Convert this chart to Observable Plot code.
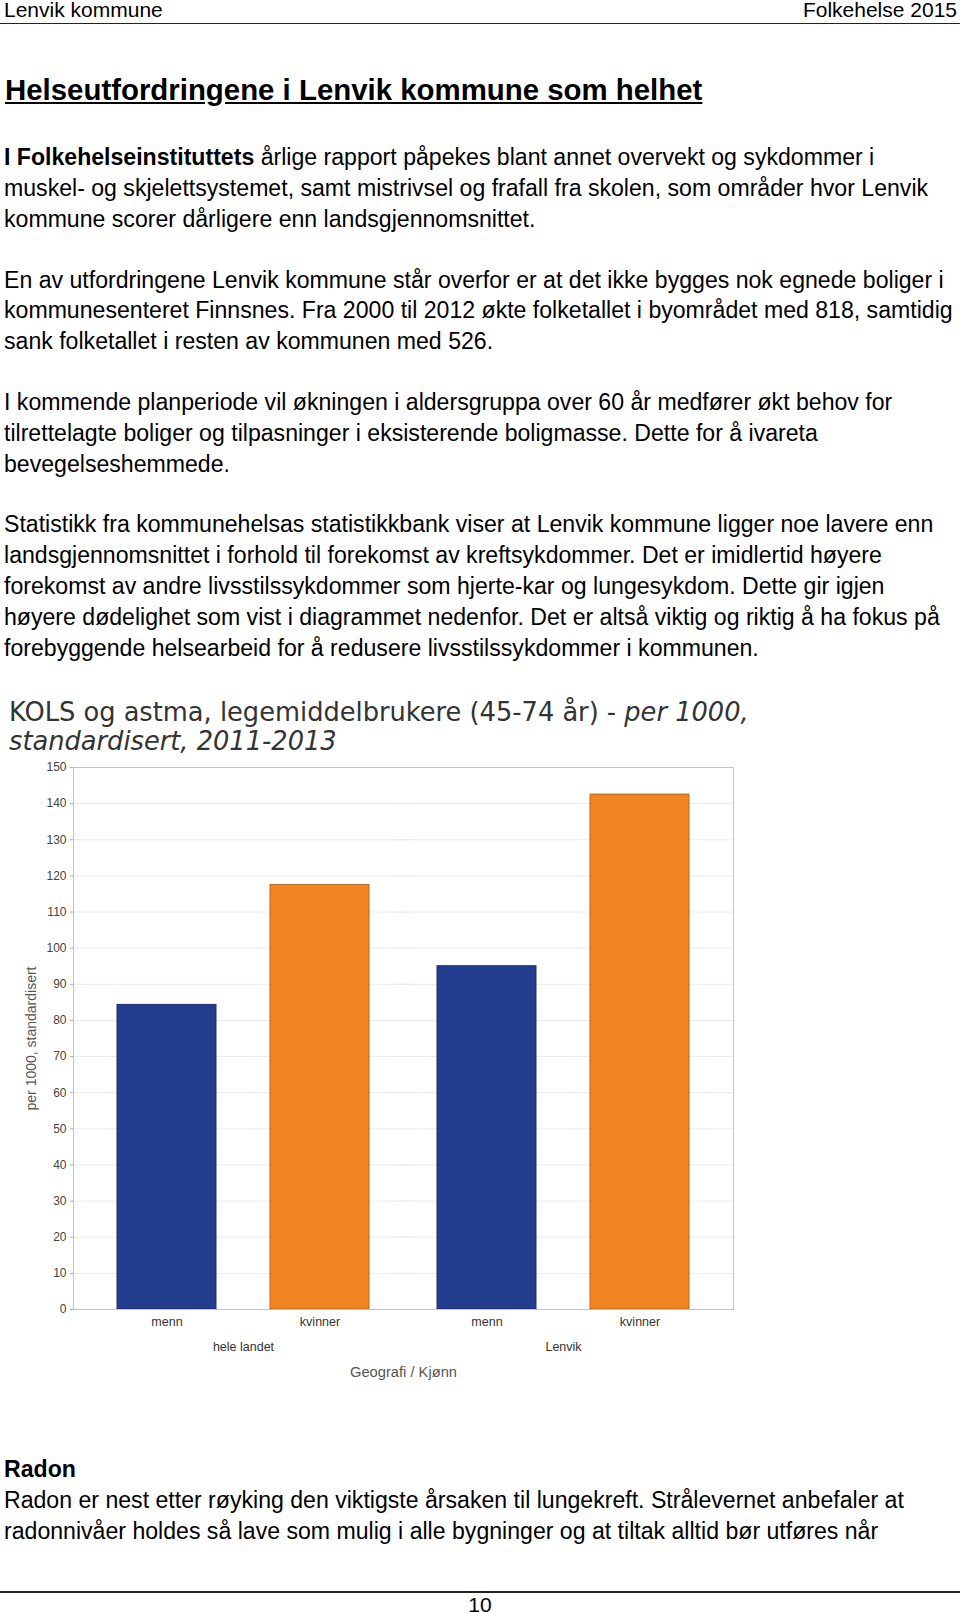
<!DOCTYPE html>
<html><head><meta charset="utf-8">
<script src="https://cdn.jsdelivr.net/npm/d3@7"></script>
<script src="https://cdn.jsdelivr.net/npm/@observablehq/plot@0.6"></script>
<style>
html,body{margin:0;padding:0;background:#fff;}
body{width:960px;height:1613px;position:relative;overflow:hidden;font-family:"Liberation Sans",Arial,sans-serif;color:#000;}
.abs{position:absolute;white-space:nowrap;}
.p{left:4px;font-size:23.1px;line-height:30.9px;}
.title{left:9px;top:697.5px;font-family:"DejaVu Sans",Verdana,sans-serif;font-size:25.7px;line-height:29px;color:#333;}
#chart{position:absolute;left:0;top:750px;}
</style></head><body>
<div class="abs" style="left:4px;top:-1.7px;font-size:21px;line-height:24px">Lenvik kommune</div>
<div class="abs" style="right:3px;top:-1.7px;font-size:21px;line-height:24px">Folkehelse 2015</div>
<div class="abs" style="left:0;top:22.5px;width:960px;height:1.5px;background:#222"></div>
<div class="abs" style="left:5px;top:71.5px;font-size:29.4px;line-height:36px;font-weight:bold;text-decoration:underline">Helseutfordringene i Lenvik kommune som helhet</div>
<div class="abs p" style="top:142px"><b>I Folkehelseinstituttets</b> årlige rapport påpekes blant annet overvekt og sykdommer i<br>muskel- og skjelettsystemet, samt mistrivsel og frafall fra skolen, som områder hvor Lenvik<br>kommune scorer dårligere enn landsgjennomsnittet.</div>
<div class="abs p" style="top:264.5px">En av utfordringene Lenvik kommune står overfor er at det ikke bygges nok egnede boliger i<br>kommunesenteret Finnsnes. Fra 2000 til 2012 økte folketallet i byområdet med 818, samtidig<br>sank folketallet i resten av kommunen med 526.</div>
<div class="abs p" style="top:386.9px">I kommende planperiode vil økningen i aldersgruppa over 60 år medfører økt behov for<br>tilrettelagte boliger og tilpasninger i eksisterende boligmasse. Dette for å ivareta<br>bevegelseshemmede.</div>
<div class="abs p" style="top:509.4px">Statistikk fra kommunehelsas statistikkbank viser at Lenvik kommune ligger noe lavere enn<br>landsgjennomsnittet i forhold til forekomst av kreftsykdommer. Det er imidlertid høyere<br>forekomst av andre livsstilssykdommer som hjerte-kar og lungesykdom. Dette gir igjen<br>høyere dødelighet som vist i diagrammet nedenfor. Det er altså viktig og riktig å ha fokus på<br>forebyggende helsearbeid for å redusere livsstilssykdommer i kommunen.</div>
<div class="abs title">KOLS og astma, legemiddelbrukere (45-74 år) - <i>per 1000,</i><br><i>standardisert, 2011-2013</i></div>
<div id="chart"></div>
<div class="abs p" style="top:1454px"><b>Radon</b><br>Radon er nest etter røyking den viktigste årsaken til lungekreft. Strålevernet anbefaler at<br>radonnivåer holdes så lave som mulig i alle bygninger og at tiltak alltid bør utføres når</div>
<div class="abs" style="left:0;top:1591px;width:960px;height:1.5px;background:#222"></div>
<div class="abs" style="left:0;width:960px;text-align:center;top:1593px;font-size:21px;line-height:24px">10</div>
<script>
const grupper = ["hele landet", "Lenvik"];
const kjonnListe = ["menn", "kvinner"];
const geografi = ["hele landet", "hele landet", "Lenvik", "Lenvik"];
const kjonn = ["menn", "kvinner", "menn", "kvinner"];
const verdier = [84.3, 117.5, 95.0, 142.5];
const yTicks = [0, 10, 20, 30, 40, 50, 60, 70, 80, 90, 100, 110, 120, 130, 140, 150];
const fyll = {menn: "#243c8e", kvinner: "#f18521"};
const kant = {menn: "#1c2f70", kvinner: "#b8661c"};
const yLabel = "per 1000, standardisert";
const xLabel = "Geografi / Kjønn";

const data = verdier.map((v, i) => ({key: geografi[i] + "|" + kjonn[i], geo: geografi[i], kjonn: kjonn[i], value: v}));
const keys = data.map(d => d.key);

const W = 760, H = 640, mT = 17, mB = 81;
const style = {fontFamily: "'Liberation Sans', Arial, sans-serif", fontSize: "12px", color: "#444", background: "transparent", overflow: "visible"};

function facetChart() {
  const ut = 10; // frame extends sideways beyond the two adjacent facets
  return Plot.plot({
    width: W, height: H, marginLeft: 83, marginRight: 37, marginTop: mT, marginBottom: mB,
    style,
    fx: {domain: grupper, paddingInner: 0, paddingOuter: 0, axis: null, label: null},
    x: {domain: kjonnListe, paddingInner: 0.355, paddingOuter: 0.2165, axis: null, label: null},
    y: {domain: [0, 150], axis: null},
    marks: [
      Plot.gridY(yTicks, {stroke: "#ebebeb", strokeOpacity: 1, insetLeft: -ut, insetRight: -ut}),
      Plot.barY(data, {fx: "geo", x: "kjonn", y: "value", fill: d => fyll[d.kjonn], stroke: d => kant[d.kjonn], strokeWidth: 1}),
      Plot.frame({facet: "super", stroke: "#c4c4c4", insetLeft: -ut, insetRight: -ut}),
      Plot.axisY({ticks: yTicks, tickSize: 3, tickPadding: 4, label: null, fontSize: 12, stroke: "#aaa", dx: -ut}),
      Plot.axisX({tickSize: 0, tickPadding: 8, label: null, fontSize: 12.5, fill: "#333"}),
      Plot.axisFx({anchor: "bottom", tickSize: 0, tickPadding: 33, label: null, fontSize: 12.5, fill: "#333"}),
      Plot.text([xLabel], {facet: "super", frameAnchor: "bottom", dy: 67, fontSize: 14.7, fill: "#555"}),
      Plot.text([yLabel], {facet: "super", frameAnchor: "left", textAnchor: "middle", rotate: -90, dx: -52, fontSize: 14, fill: "#555"})
    ]
  });
}

function bandChart() {
  const mL = 72, mR = 27, pi = 0.37, po = 0.28;
  const step = (W - mL - mR) / (keys.length - pi + 2 * po);
  return Plot.plot({
    width: W, height: H, marginLeft: mL, marginRight: mR, marginTop: mT, marginBottom: mB,
    style,
    x: {domain: keys, paddingInner: pi, paddingOuter: po, axis: null},
    y: {domain: [0, 150], axis: null},
    marks: [
      Plot.gridY(yTicks, {stroke: "#ebebeb", strokeOpacity: 1}),
      Plot.barY(data, {x: "key", y: "value", fill: d => fyll[d.kjonn], stroke: d => kant[d.kjonn], strokeWidth: 1}),
      Plot.frame({stroke: "#c4c4c4"}),
      Plot.axisY({ticks: yTicks, tickSize: 3, tickPadding: 4, label: null, fontSize: 12, stroke: "#aaa"}),
      Plot.axisX({tickSize: 0, tickPadding: 8, tickFormat: k => k.split("|")[1], label: null, fontSize: 12.5, fill: "#333"}),
      Plot.text(data.filter(d => d.kjonn === "menn"), {x: "key", text: "geo", frameAnchor: "bottom", dx: step / 2, dy: 40, fontSize: 12.5, fill: "#333"}),
      Plot.text([xLabel], {frameAnchor: "bottom", dy: 67, fontSize: 14.7, fill: "#555"}),
      Plot.text([yLabel], {frameAnchor: "left", textAnchor: "middle", rotate: -90, dx: -41, fontSize: 14, fill: "#555"})
    ]
  });
}

let chart;
try { chart = facetChart(); } catch (e) { console.warn(e); chart = bandChart(); }
document.getElementById("chart").appendChild(chart);
</script>
</body></html>
